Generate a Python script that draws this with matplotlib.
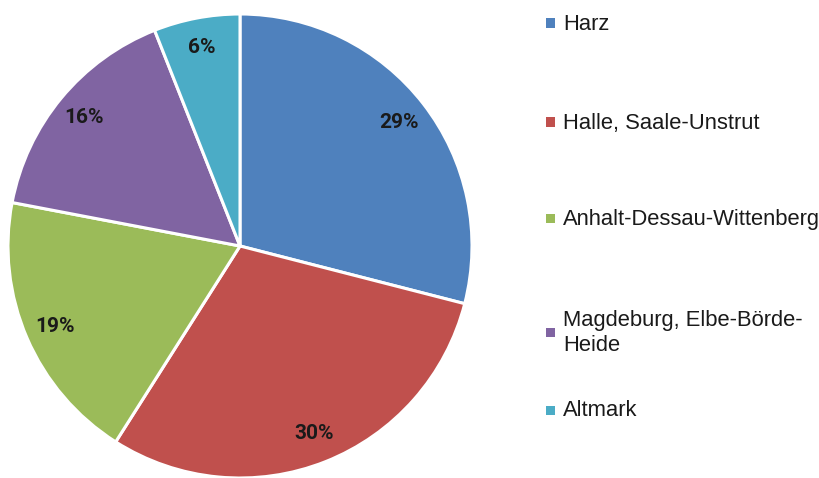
import matplotlib
matplotlib.use("Agg")
import matplotlib.pyplot as plt
from matplotlib.patches import Rectangle

categories = ["Harz", "Halle, Saale-Unstrut", "Anhalt-Dessau-Wittenberg",
              "Magdeburg, Elbe-Börde-\nHeide", "Altmark"]
values = [29, 30, 19, 16, 6]
colors = ["#4F81BD", "#C0504D", "#9BBB59", "#8064A2", "#4BACC6"]

W, H = 820, 478
fig = plt.figure(figsize=(W / 100, H / 100), dpi=100)
fig.patch.set_facecolor("white")

cx, cy, r = 240, 246, 232
ax = fig.add_axes([(cx - r) / W, (H - cy - r) / H, 2 * r / W, 2 * r / H])
wedges, texts, autotexts = ax.pie(
    values, colors=colors, startangle=90, counterclock=False,
    autopct=lambda p: f"{p:.0f}%", pctdistance=0.87,
    wedgeprops=dict(edgecolor="white", linewidth=2.2),
    textprops=dict(fontsize=15, fontweight="bold", color="#1a1a1a",
                   family=["Roboto", "DejaVu Sans"]))
ax.set_aspect("equal")
ax.set_xlim(-1, 1)
ax.set_ylim(-1, 1)

# legend (manual placement)
legend_y = [23, 122, 218, 332, 410]
for lab, col, y in zip(categories, colors, legend_y):
    fig.patches.append(Rectangle(((546) / W, (H - y - 4.5) / H), 9 / W, 9 / H,
                                 transform=fig.transFigure, facecolor=col,
                                 edgecolor="none"))
    fig.text(563 / W, (H - y - 1) / H, lab, fontsize=15.8, color="#1a1a1a",
             va="center", ha="left", linespacing=1.25,
             family=["Liberation Sans", "DejaVu Sans"])

fig.savefig("out.png", dpi=100, facecolor="white")
